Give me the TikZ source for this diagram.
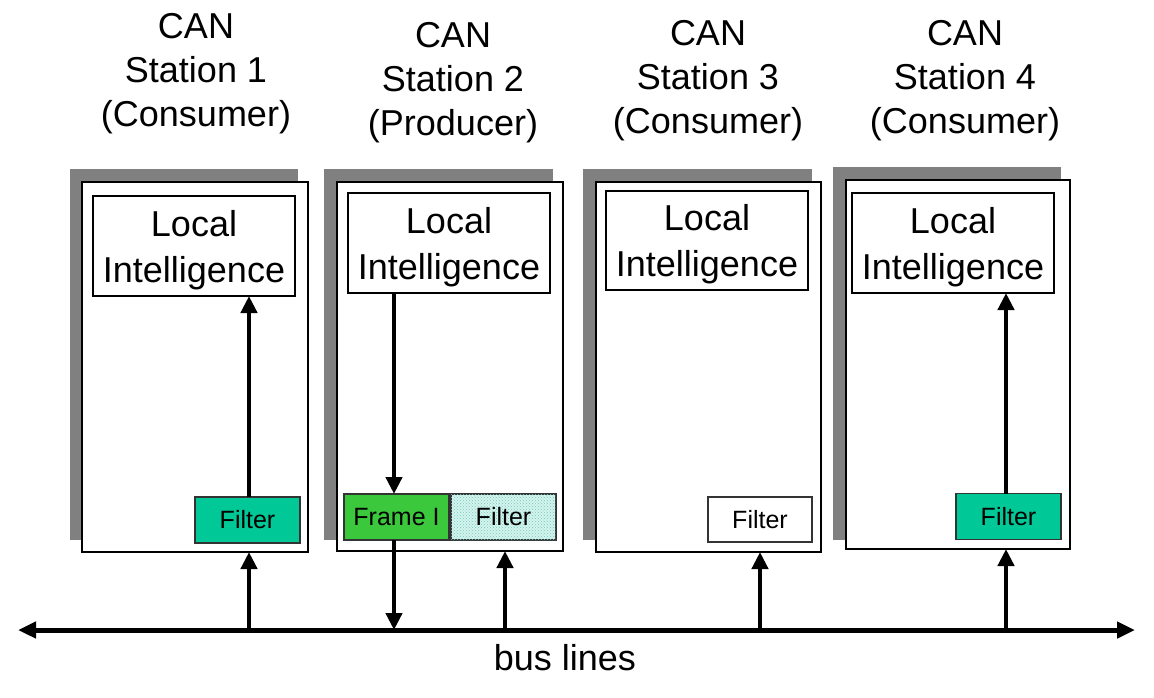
\documentclass[tikz,border=0pt]{standalone}
\usepackage{fontspec}
\setmainfont{Liberation Sans}
\usetikzlibrary{arrows.meta,patterns}
\definecolor{shadowgray}{RGB}{128,128,128}
\definecolor{filtergreen}{RGB}{0,200,150}
\definecolor{framegreen}{RGB}{60,200,60}
\definecolor{lightcyan}{RGB}{212,244,238}
\definecolor{dotcyan}{RGB}{120,200,190}
\newcommand{\lifix}{\rule{0pt}{34pt}}
\begin{document}
\begin{tikzpicture}[x=1pt,y=-1pt,
  shadowbox/.style={rectangle, fill=shadowgray, inner sep=0pt, outer sep=0pt},
  mainbox/.style={rectangle, draw=black, line width=1.5pt, fill=white, inner sep=0pt, outer sep=0pt},
  libox/.style={rectangle, draw=black, line width=1.5pt, fill=white, inner sep=0pt, outer sep=0pt,
    align=center, font=\fontsize{36}{46}\selectfont, minimum width=202pt, minimum height=100pt},
  smallbox/.style={rectangle, draw=black!80, line width=1.5pt, inner sep=0pt, outer sep=0pt,
    font=\fontsize{25}{30}\selectfont, minimum width=105pt, minimum height=46pt},
  title/.style={align=center, anchor=north, inner sep=0pt, font=\fontsize{36}{44}\selectfont},
  flow/.style={line width=4.5pt, -{Triangle[length=17pt,width=16pt]}},
  busline/.style={line width=5pt, {Triangle[length=18pt,width=16pt]}-{Triangle[length=18pt,width=16pt]}},
]
\useasboundingbox (0,0) rectangle (1154,697);

% titles
\node[title] (t1) at (196,13) {CAN\\Station 1\\(Consumer)};
\node[title] (t2) at (453,22) {CAN\\Station 2\\(Producer)};
\node[title] (t3) at (708,20) {CAN\\Station 3\\(Consumer)};
\node[title] (t4) at (965,20) {CAN\\Station 4\\(Consumer)};

% shadows
\node[shadowbox, minimum width=228pt, minimum height=371pt] (sh1) at (184,354.5) {};
\node[shadowbox, minimum width=229pt, minimum height=371pt] (sh2) at (438.5,354.5) {};
\node[shadowbox, minimum width=229pt, minimum height=371pt] (sh3) at (697.5,354.5) {};
\node[shadowbox, minimum width=228pt, minimum height=373pt] (sh4) at (947,353.5) {};

% station boxes
\node[mainbox, minimum width=226pt, minimum height=370pt] (m1) at (195,367) {};
\node[mainbox, minimum width=226pt, minimum height=369pt] (m2) at (450,366.5) {};
\node[mainbox, minimum width=225pt, minimum height=370pt] (m3) at (708.5,367) {};
\node[mainbox, minimum width=224pt, minimum height=369pt] (m4) at (958,364.5) {};

% local intelligence
\node[libox] (li1) at (194,246) {\lifix Local\\Intelligence};
\node[libox] (li2) at (449,243) {\lifix Local\\Intelligence};
\node[libox, minimum height=99pt] (li3) at (707,240.5) {\lifix Local\\Intelligence};
\node[libox] (li4) at (953,243) {\lifix Local\\Intelligence};

% filters and frame
\node[smallbox, fill=filtergreen] (f1) at (247.5,520) {Filter};
\node[smallbox, fill=framegreen] (fr2) at (396.5,517) {Frame I};
\node[smallbox, fill=lightcyan, postaction={pattern=crosshatch dots, pattern color=dotcyan}] (f2) at (503.5,517) {Filter};
\node[smallbox, fill=white, minimum width=104pt, minimum height=45pt] (f3) at (760,519.5) {Filter};
\node[smallbox, fill=filtergreen] (f4) at (1008.5,516.5) {Filter};

% bus
\coordinate (busL) at (18,630);
\coordinate (busR) at (1135,630);
\coordinate (b1) at (249,630);
\coordinate (b2) at (505,630);
\coordinate (b3) at (760,630);
\coordinate (b4) at (1006,630);
\draw[busline] (busL) -- (busR);
\node[anchor=base, inner sep=0pt, font=\fontsize{36}{44}\selectfont] (bl) at (565,670) {bus lines};

% connectors
\draw[flow] (b1) -- (b1 |- m1.south);
\draw[flow] (f1.north -| b1) -- (li1.south -| b1);
\draw[flow] (li2.south -| 394,0) -- (fr2.north -| 394,0);
\draw[flow] (fr2.south -| 394,0) -- (busL -| 394,0);
\draw[flow] (b2) -- (b2 |- m2.south);
\draw[flow] (b3) -- (b3 |- m3.south);
\draw[flow] (b4) -- (b4 |- m4.south);
\draw[flow] (f4.north -| b4) -- (li4.south -| b4);
\end{tikzpicture}
\end{document}
